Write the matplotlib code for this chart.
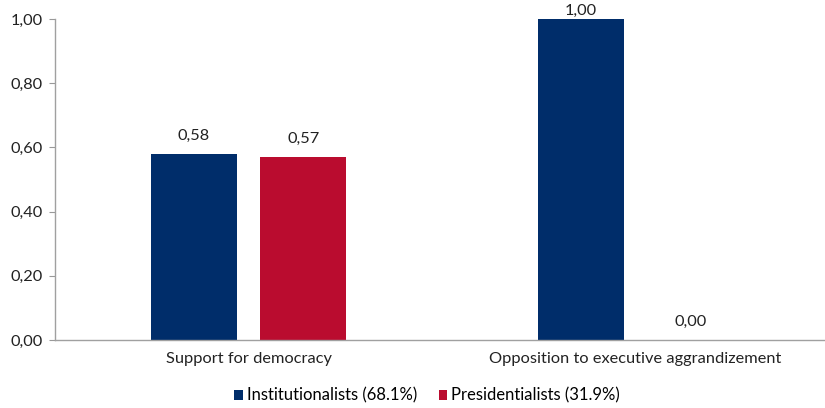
import numpy as np
import matplotlib.pyplot as plt
from matplotlib.ticker import FuncFormatter

plt.rcParams['font.family'] = ['Lato', 'DejaVu Sans']

categories = ['Support for democracy', 'Opposition to executive aggrandizement']
institutionalists = [0.58, 1.00]
presidentialists = [0.57, 0.00]
series_names = ['Institutionalists (68.1%)', 'Presidentialists (31.9%)']
colors = ['#002D6A', '#BA0C2F']

def comma(v):
    return f'{v:.2f}'.replace('.', ',')

fig = plt.figure(figsize=(8.25, 4.08), dpi=100)
ax = fig.add_axes([55/825, 1 - 340/408, 774/825, 321/408])

x = np.arange(len(categories))
w = 0.222
off = 0.142
for vals, name, c, sign in [(institutionalists, series_names[0], colors[0], -1),
                            (presidentialists, series_names[1], colors[1], 1)]:
    bars = ax.bar(x + sign * off, vals, w, color=c, label=name)
    for b, v in zip(bars, vals):
        # labels near the top get pushed down so they stay inside the plot
        ax.text(b.get_x() + b.get_width() / 2, min(v + 0.034, 1.003), comma(v),
                ha='center', va='bottom', fontsize=11.8, color='#222222')

ax.set_xlim(-0.5, 1.5)
ax.set_ylim(0, 1.0)
ax.set_yticks(np.arange(0, 1.01, 0.2))
ax.yaxis.set_major_formatter(FuncFormatter(lambda v, p: comma(v)))
ax.set_xticks(x)
ax.set_xticklabels(categories)
ax.tick_params(axis='x', length=0, pad=9, labelsize=11.8, colors='#222222')
ax.tick_params(axis='y', length=4, width=0.8, color='#999999', labelsize=11.8,
               labelcolor='#222222', pad=5)
for s in ['top', 'right']:
    ax.spines[s].set_visible(False)
for s in ['left', 'bottom']:
    ax.spines[s].set_color('#A0A0A0')
    ax.spines[s].set_linewidth(1.0)

ax.legend(loc='center', bbox_to_anchor=(0.481, -0.174), ncol=2, frameon=False,
          fontsize=12, handlelength=0.5, handleheight=0.5, handletextpad=0.25,
          columnspacing=1.3, borderpad=0)

fig.savefig('out.png', dpi=100)
